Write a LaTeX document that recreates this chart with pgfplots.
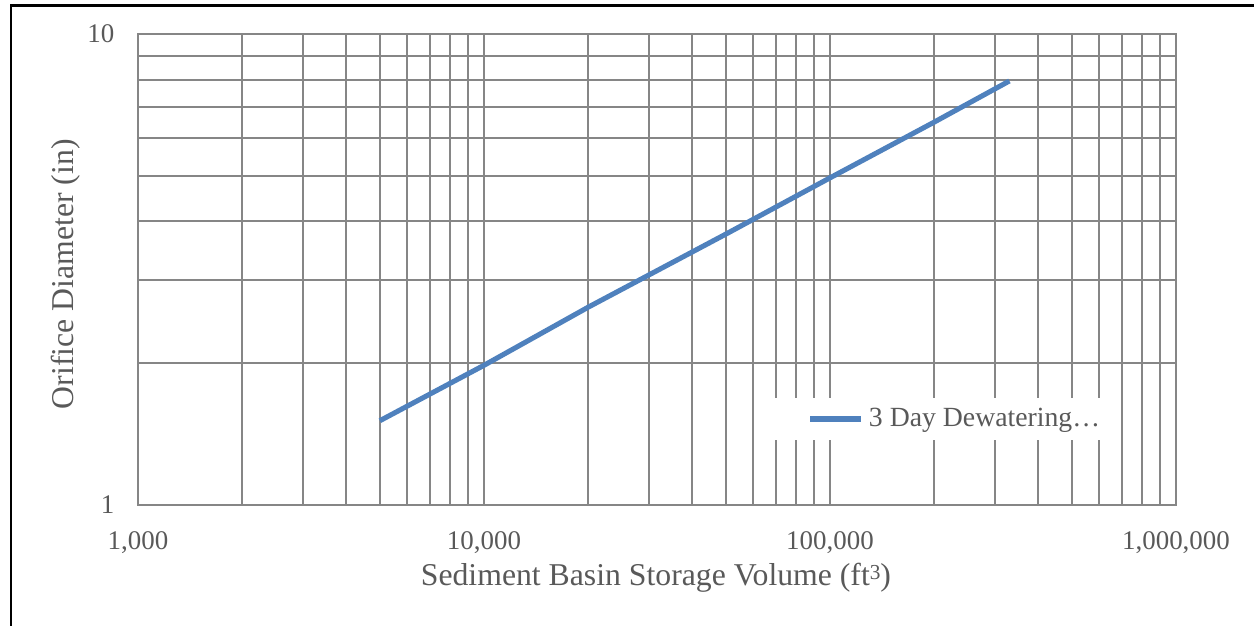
\documentclass[border=0pt]{standalone}
\usepackage{fontspec}
\setmainfont{Liberation Serif}
\usepackage{pgfplots}
\pgfplotsset{compat=1.18}
\definecolor{gridgray}{RGB}{134,134,134}
\definecolor{textgray}{RGB}{89,89,89}
\definecolor{xlblue}{RGB}{79,129,189}

\begin{document}
\begin{tikzpicture}
% 1 px of the reference = 0.375pt
\path[use as bounding box] (-51.75pt,-45pt) rectangle (418.5pt,189.375pt);
\draw[black, line width=1pt] (-47.6pt,-46pt) -- (-47.6pt,187.4pt) -- (420pt,187.4pt);
\begin{axis}[
    at={(0pt,0pt)}, anchor=south west,
    scale only axis, width=389.25pt, height=176.625pt,
    xmode=log, ymode=log,
    xmin=1000, xmax=1000000, ymin=1, ymax=10,
    xtick={1000,10000,100000,1000000},
    xticklabels={{1,000},{10,000},{100,000},{1,000,000}},
    ytick={1,10}, yticklabels={1,10},
    major tick length=0pt, minor tick length=0pt,
    grid=both,
    major grid style={gridgray, line width=0.75pt},
    minor grid style={gridgray, line width=0.75pt},
    axis line style={gridgray, line width=0.75pt},
    tick label style={font=\fontsize{10.1}{12}\selectfont, text=textgray, inner sep=0pt},
    xticklabel style={anchor=base, yshift=-16.5pt},
    yticklabel style={anchor=east, xshift=-8.7pt},
    xlabel={Sediment Basin Storage Volume (ft\raisebox{0.45ex}{\fontsize{8}{9}\selectfont 3})},
    ylabel={Orifice Diameter (in)},
    label style={font=\fontsize{11.9}{14}\selectfont, text=textgray},
    xlabel style={at={(rel axis cs:0.499,-0.155)}, anchor=center},
    ylabel style={at={(rel axis cs:-0.0695,0.49)}, anchor=center, rotate=0},
    legend style={at={(rel axis cs:0.6089,0.1826)}, anchor=west, draw=none, fill=white,
        font=\fontsize{10.4}{12}\selectfont, text=textgray, inner xsep=6pt, inner ysep=1.5pt},
    legend cell align=left,
    legend image code/.code={\path (0pt,0pt); \draw[#1] (8pt,0pt) -- (27pt,0pt);},
]
\addplot[xlblue, line width=1.9pt, mark=none] coordinates {
    (5000,1.51) (10000,1.98) (20000,2.63) (50000,3.76) (100000,4.95) (200000,6.5) (330000,7.95)
};
\addlegendentry{3 Day Dewatering…}
\end{axis}
\end{tikzpicture}
\end{document}
